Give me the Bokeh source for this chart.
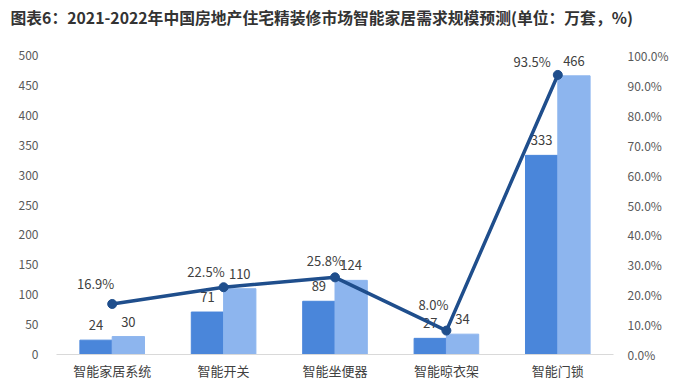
from bokeh.plotting import figure
from bokeh.models import ColumnDataSource, Range1d, LinearAxis, FactorRange, CustomJSTickFormatter, FixedTicker
from bokeh.transform import dodge
from bokeh.core.properties import value
from bokeh.embed import file_html
from bokeh.resources import INLINE

categories = ["智能家居系统", "智能开关", "智能坐便器", "智能晾衣架", "智能门锁"]
v2021 = [24, 71, 89, 27, 333]
v2022 = [30, 110, 124, 34, 466]
pct = [0.169, 0.225, 0.258, 0.080, 0.935]
pct_labels = ["16.9%", "22.5%", "25.8%", "8.0%", "93.5%"]
left_ticks = [0, 50, 100, 150, 200, 250, 300, 350, 400, 450, 500]
right_ticks = [0.0, 0.1, 0.2, 0.3, 0.4, 0.5, 0.6, 0.7, 0.8, 0.9, 1.0]
title_text = "图表6：2021-2022年中国房地产住宅精装修市场智能家居需求规模预测(单位：万套，%)"

FONT = "Noto Sans CJK SC"
DARK = "#4A86DA"
LIGHT = "#8DB5EE"
LINE = "#1F4E8C"

src = ColumnDataSource(dict(cat=categories, a=v2021, b=v2022, p=pct,
                            al=[str(v) for v in v2021], bl=[str(v) for v in v2022],
                            pl=pct_labels,
                            pdx=[2, 1, 9, 2, -7], pdy=[-20, -16, -17, -26, -13]))

p = figure(width=671, height=382, x_range=FactorRange(*categories, range_padding=0),
           y_range=Range1d(0, 500), output_backend="svg", toolbar_location=None,
           min_border_left=56, min_border_right=58, min_border_top=0, min_border_bottom=0)
p.extra_y_ranges = {"pct": Range1d(0, 1)}

p.title.text = title_text + "\n "
p.title.text_font = FONT
p.title.text_font_size = "15.8px"
p.title.text_font_style = "bold"
p.title.text_color = "#333333"
p.title.offset = -46
p.title.standoff = 7

p.outline_line_color = None
p.xgrid.grid_line_color = None
p.ygrid.grid_line_color = None

w = 0.29
p.vbar(x=dodge("cat", -w / 2, range=p.x_range), top="a", width=w, source=src, color=DARK)
p.vbar(x=dodge("cat", w / 2, range=p.x_range), top="b", width=w, source=src, color=LIGHT)

p.text(x=dodge("cat", -w / 2, range=p.x_range), y="a", text="al", source=src,
       text_align="center", text_baseline="middle", y_offset=-15,
       text_font=value(FONT), text_font_size="13px", text_color="#404040")
p.text(x=dodge("cat", w / 2, range=p.x_range), y="b", text="bl", source=src,
       text_align="center", text_baseline="middle", y_offset=-15,
       text_font=value(FONT), text_font_size="13px", text_color="#404040")

p.line(x="cat", y="p", source=src, y_range_name="pct", line_color=LINE, line_width=3.5)
p.scatter(x="cat", y="p", source=src, y_range_name="pct", size=9, color=LINE)
p.text(x="cat", y="p", text="pl", source=src, y_range_name="pct",
       text_align="right", text_baseline="middle", x_offset="pdx", y_offset="pdy",
       text_font=value(FONT), text_font_size="13px", text_color="#404040")

# left axis
ya = p.yaxis[0]
ya.ticker = FixedTicker(ticks=left_ticks)
ya.axis_line_color = None
ya.major_tick_line_color = None
ya.minor_tick_line_color = None
ya.major_label_text_font = FONT
ya.major_label_text_font_size = "12px"
ya.major_label_text_color = "#595959"
ya.major_label_standoff = 12

# right axis
ra = LinearAxis(y_range_name="pct", ticker=FixedTicker(ticks=right_ticks))
ra.formatter = CustomJSTickFormatter(code="return (tick*100).toFixed(1) + '%';")
ra.axis_line_color = None
ra.major_tick_line_color = None
ra.minor_tick_line_color = None
ra.major_label_text_font = FONT
ra.major_label_text_font_size = "12px"
ra.major_label_text_color = "#595959"
ra.major_label_standoff = 8
p.add_layout(ra, "right")

xa = p.xaxis[0]
xa.axis_line_color = "#D9D9D9"
xa.major_tick_line_color = None
xa.minor_tick_line_color = None
xa.major_label_text_font = FONT
xa.major_label_text_font_size = "13px"
xa.major_label_text_color = "#404040"
xa.major_label_standoff = 0

open("out.html", "w").write(file_html(p, INLINE))
